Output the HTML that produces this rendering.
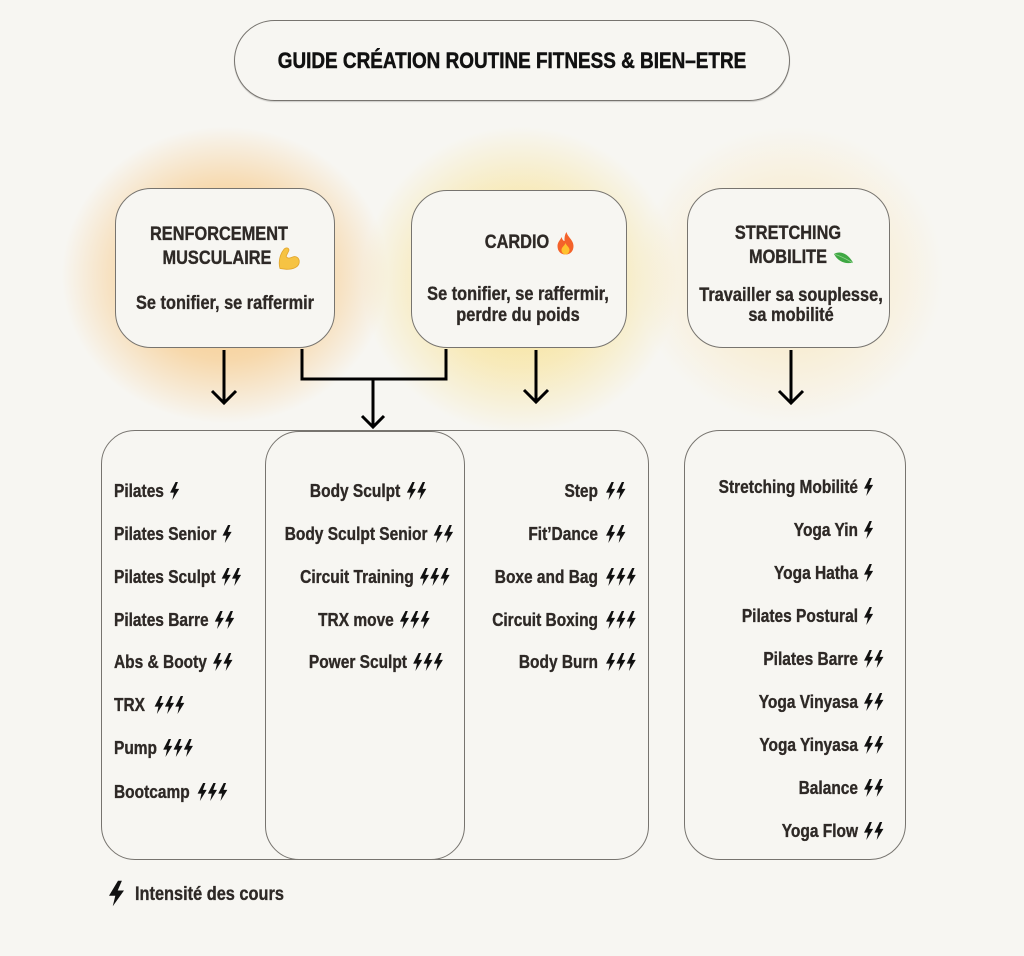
<!DOCTYPE html>
<html>
<head>
<meta charset="utf-8">
<style>
  html,body{margin:0;padding:0;}
  body{width:1024px;height:956px;background:#f7f6f2;position:relative;overflow:hidden;
       font-family:"Liberation Sans",Arial,sans-serif;}
  .box{position:absolute;box-sizing:border-box;border:1.5px solid #77746f;background:#f7f6f2;}
  .t{position:absolute;white-space:nowrap;font-weight:700;color:#2e2926;font-size:18px;line-height:20px;-webkit-text-stroke:0.35px #2e2926;}
  .h{font-size:19px;line-height:22px;}
  .c{text-align:center;width:400px;transform:scaleX(.86);transform-origin:center;}
  .l{transform:scaleX(.86);transform-origin:left;}
  .r{text-align:right;width:400px;transform:scaleX(.86);transform-origin:right;}
  svg.b{width:11px;height:18px;vertical-align:-3px;margin-left:1px;fill:#111;}
  .g{margin-left:6px;}
  .glow{position:absolute;border-radius:50%;}
</style>
</head>
<body>

<!-- glows -->
<div class="glow" style="left:60px;top:125px;width:330px;height:300px;background:radial-gradient(ellipse at 50% 50%, rgba(246,178,80,.75) 0%, rgba(247,186,100,.5) 40%, rgba(247,200,130,0) 70%);"></div>
<div class="glow" style="left:360px;top:125px;width:320px;height:310px;background:radial-gradient(ellipse at 50% 50%, rgba(247,214,95,.75) 0%, rgba(248,220,120,.45) 40%, rgba(248,225,150,0) 70%);"></div>
<div class="glow" style="left:635px;top:125px;width:310px;height:300px;background:radial-gradient(ellipse at 50% 50%, rgba(250,220,150,.6) 0%, rgba(250,226,170,.35) 40%, rgba(250,230,180,0) 70%);"></div>

<!-- title -->
<div class="box" style="left:234px;top:20px;width:556px;height:81px;border-radius:41px;box-shadow:0 1px 1px rgba(0,0,0,.18);"></div>
<div class="t c" style="left:212px;width:600px;top:48px;font-size:22px;line-height:26px;color:#111;-webkit-text-stroke:0.5px #111;">GUIDE CRÉATION ROUTINE FITNESS &amp; BIEN–ETRE</div>

<!-- top boxes -->
<div class="box" style="left:115px;top:188px;width:220px;height:160px;border-radius:36px;"></div>
<div class="box" style="left:411px;top:190px;width:216px;height:158px;border-radius:36px;"></div>
<div class="box" style="left:687px;top:188px;width:203px;height:160px;border-radius:36px;"></div>

<!-- Renforcement text -->
<div class="t h c" style="left:19px;top:224px;">RENFORCEMENT</div>
<div class="t h c" style="left:17px;top:248px;">MUSCULAIRE</div>
<svg style="position:absolute;left:276px;top:246px;" width="25" height="24" viewBox="0 0 24 24">
  <path d="M3.5 22.5 C1.5 16 3.5 8 7.5 3.2 C9.5 1 13 1.8 12.3 4.8 L9.6 10.2 C10.8 13 13.5 12.2 16.2 11 C20 9.4 23.4 12.5 22.6 17 C21.8 21.2 16.5 23.3 10 23.3 Z" fill="#f6c343" stroke="#e2a52c" stroke-width=".8"/>
</svg>
<div class="t h c" style="left:25px;top:293px;">Se tonifier, se raffermir</div>

<!-- Cardio text -->
<div class="t h c" style="left:317px;top:232px;">CARDIO</div>
<svg style="position:absolute;left:554px;top:231px;" width="23" height="24" viewBox="0 0 22 24">
  <path d="M12 1 C13 6 19 9 19 15 C19 20 16 23.5 11 23.5 C6 23.5 3 20 3 15 C3 11 6 9 7 6 C8 9 9 10 10 10 C10 7 10 4 12 1Z" fill="#f4622a"/>
  <path d="M11 12 C12 15 15 16 15 19 C15 21.5 13 23.5 11 23.5 C9 23.5 7 21.5 7 19 C7 16 10 15 11 12Z" fill="#ffc12e"/>
</svg>
<div class="t h c" style="left:318px;top:284px;">Se tonifier, se raffermir,</div>
<div class="t h c" style="left:318px;top:305px;">perdre du poids</div>

<!-- Stretching text -->
<div class="t h c" style="left:588px;top:223px;">STRETCHING</div>
<div class="t h c" style="left:588px;top:247px;">MOBILITE</div>
<svg style="position:absolute;left:833px;top:251px;" width="21" height="14" viewBox="0 0 21 14">
  <path d="M1 3 C6 0 14 1 20 11.5 C12 13.5 5 10.5 1 3Z" fill="#3fa843"/>
  <path d="M2 3.5 C8 5 13 8 19 11.3" stroke="#8fd18c" stroke-width=".8" fill="none"/>
</svg>
<div class="t h c" style="left:591px;top:285px;">Travailler sa souplesse,</div>
<div class="t h c" style="left:591px;top:305px;">sa mobilité</div>

<!-- lower boxes -->
<div class="box" style="left:101px;top:430px;width:300px;height:430px;border-radius:34px;"></div>
<div class="box" style="left:330px;top:430px;width:319px;height:430px;border-radius:34px;"></div>
<div class="box" style="left:265px;top:431px;width:200px;height:429px;border-radius:34px;"></div>
<div class="box" style="left:684px;top:430px;width:222px;height:430px;border-radius:36px;"></div>

<!-- connectors -->
<svg style="position:absolute;left:0;top:0;" width="1024" height="956">
  <g stroke="#000" stroke-width="3" fill="none" stroke-linecap="butt" stroke-linejoin="miter">
    <path d="M224 350 V402"/>
    <path d="M212 391 L224 403 L236 391"/>
    <path d="M302 349 V379 H446 V349"/>
    <path d="M373 379 V427"/>
    <path d="M362 416 L373 427 L384 416"/>
    <path d="M536 350 V401"/>
    <path d="M524 390 L536 402 L548 390"/>
    <path d="M791 350 V402"/>
    <path d="M779 391 L791 403 L803 391"/>
  </g>
</svg>

<!-- Left list -->
<div class="t l" style="left:114px;top:481px;">Pilates<span class="g"></span><svg class="b" viewBox="0 0 10 17"><path d="M6 0 L0 10 L4.2 10 L2.5 17 L10 6.5 L5.8 6.5 L8.6 0Z"/></svg></div>
<div class="t l" style="left:114px;top:524px;">Pilates Senior<span class="g"></span><svg class="b" viewBox="0 0 10 17"><path d="M6 0 L0 10 L4.2 10 L2.5 17 L10 6.5 L5.8 6.5 L8.6 0Z"/></svg></div>
<div class="t l" style="left:114px;top:567px;">Pilates Sculpt<span class="g"></span><svg class="b" viewBox="0 0 10 17"><path d="M6 0 L0 10 L4.2 10 L2.5 17 L10 6.5 L5.8 6.5 L8.6 0Z"/></svg><svg class="b" viewBox="0 0 10 17"><path d="M6 0 L0 10 L4.2 10 L2.5 17 L10 6.5 L5.8 6.5 L8.6 0Z"/></svg></div>
<div class="t l" style="left:114px;top:610px;">Pilates Barre<span class="g"></span><svg class="b" viewBox="0 0 10 17"><path d="M6 0 L0 10 L4.2 10 L2.5 17 L10 6.5 L5.8 6.5 L8.6 0Z"/></svg><svg class="b" viewBox="0 0 10 17"><path d="M6 0 L0 10 L4.2 10 L2.5 17 L10 6.5 L5.8 6.5 L8.6 0Z"/></svg></div>
<div class="t l" style="left:114px;top:652px;">Abs &amp; Booty<span class="g"></span><svg class="b" viewBox="0 0 10 17"><path d="M6 0 L0 10 L4.2 10 L2.5 17 L10 6.5 L5.8 6.5 L8.6 0Z"/></svg><svg class="b" viewBox="0 0 10 17"><path d="M6 0 L0 10 L4.2 10 L2.5 17 L10 6.5 L5.8 6.5 L8.6 0Z"/></svg></div>
<div class="t l" style="left:114px;top:695px;">TRX<span class="g" style="margin-left:10px"></span><svg class="b" viewBox="0 0 10 17"><path d="M6 0 L0 10 L4.2 10 L2.5 17 L10 6.5 L5.8 6.5 L8.6 0Z"/></svg><svg class="b" viewBox="0 0 10 17"><path d="M6 0 L0 10 L4.2 10 L2.5 17 L10 6.5 L5.8 6.5 L8.6 0Z"/></svg><svg class="b" viewBox="0 0 10 17"><path d="M6 0 L0 10 L4.2 10 L2.5 17 L10 6.5 L5.8 6.5 L8.6 0Z"/></svg></div>
<div class="t l" style="left:114px;top:738px;">Pump<span class="g"></span><svg class="b" viewBox="0 0 10 17"><path d="M6 0 L0 10 L4.2 10 L2.5 17 L10 6.5 L5.8 6.5 L8.6 0Z"/></svg><svg class="b" viewBox="0 0 10 17"><path d="M6 0 L0 10 L4.2 10 L2.5 17 L10 6.5 L5.8 6.5 L8.6 0Z"/></svg><svg class="b" viewBox="0 0 10 17"><path d="M6 0 L0 10 L4.2 10 L2.5 17 L10 6.5 L5.8 6.5 L8.6 0Z"/></svg></div>
<div class="t l" style="left:114px;top:782px;">Bootcamp<span class="g" style="margin-left:8px"></span><svg class="b" viewBox="0 0 10 17"><path d="M6 0 L0 10 L4.2 10 L2.5 17 L10 6.5 L5.8 6.5 L8.6 0Z"/></svg><svg class="b" viewBox="0 0 10 17"><path d="M6 0 L0 10 L4.2 10 L2.5 17 L10 6.5 L5.8 6.5 L8.6 0Z"/></svg><svg class="b" viewBox="0 0 10 17"><path d="M6 0 L0 10 L4.2 10 L2.5 17 L10 6.5 L5.8 6.5 L8.6 0Z"/></svg></div>

<!-- Middle list -->
<div class="t c" style="left:168px;top:481px;">Body Sculpt<span class="g"></span><svg class="b" viewBox="0 0 10 17"><path d="M6 0 L0 10 L4.2 10 L2.5 17 L10 6.5 L5.8 6.5 L8.6 0Z"/></svg><svg class="b" viewBox="0 0 10 17"><path d="M6 0 L0 10 L4.2 10 L2.5 17 L10 6.5 L5.8 6.5 L8.6 0Z"/></svg></div>
<div class="t c" style="left:169px;top:524px;">Body Sculpt Senior<span class="g"></span><svg class="b" viewBox="0 0 10 17"><path d="M6 0 L0 10 L4.2 10 L2.5 17 L10 6.5 L5.8 6.5 L8.6 0Z"/></svg><svg class="b" viewBox="0 0 10 17"><path d="M6 0 L0 10 L4.2 10 L2.5 17 L10 6.5 L5.8 6.5 L8.6 0Z"/></svg></div>
<div class="t c" style="left:175px;top:567px;">Circuit Training<span class="g"></span><svg class="b" viewBox="0 0 10 17"><path d="M6 0 L0 10 L4.2 10 L2.5 17 L10 6.5 L5.8 6.5 L8.6 0Z"/></svg><svg class="b" viewBox="0 0 10 17"><path d="M6 0 L0 10 L4.2 10 L2.5 17 L10 6.5 L5.8 6.5 L8.6 0Z"/></svg><svg class="b" viewBox="0 0 10 17"><path d="M6 0 L0 10 L4.2 10 L2.5 17 L10 6.5 L5.8 6.5 L8.6 0Z"/></svg></div>
<div class="t c" style="left:174px;top:610px;">TRX move<span class="g"></span><svg class="b" viewBox="0 0 10 17"><path d="M6 0 L0 10 L4.2 10 L2.5 17 L10 6.5 L5.8 6.5 L8.6 0Z"/></svg><svg class="b" viewBox="0 0 10 17"><path d="M6 0 L0 10 L4.2 10 L2.5 17 L10 6.5 L5.8 6.5 L8.6 0Z"/></svg><svg class="b" viewBox="0 0 10 17"><path d="M6 0 L0 10 L4.2 10 L2.5 17 L10 6.5 L5.8 6.5 L8.6 0Z"/></svg></div>
<div class="t c" style="left:176px;top:652px;">Power Sculpt<span class="g"></span><svg class="b" viewBox="0 0 10 17"><path d="M6 0 L0 10 L4.2 10 L2.5 17 L10 6.5 L5.8 6.5 L8.6 0Z"/></svg><svg class="b" viewBox="0 0 10 17"><path d="M6 0 L0 10 L4.2 10 L2.5 17 L10 6.5 L5.8 6.5 L8.6 0Z"/></svg><svg class="b" viewBox="0 0 10 17"><path d="M6 0 L0 10 L4.2 10 L2.5 17 L10 6.5 L5.8 6.5 L8.6 0Z"/></svg></div>

<!-- Cardio list -->
<div class="t r" style="left:198px;top:481px;">Step</div>
<div class="t r" style="left:198px;top:524px;">Fit’Dance</div>
<div class="t r" style="left:198px;top:567px;">Boxe and Bag</div>
<div class="t r" style="left:198px;top:610px;">Circuit Boxing</div>
<div class="t r" style="left:198px;top:652px;">Body Burn</div>
<div class="t l" style="left:605px;top:481px;"><svg class="b" viewBox="0 0 10 17"><path d="M6 0 L0 10 L4.2 10 L2.5 17 L10 6.5 L5.8 6.5 L8.6 0Z"/></svg><svg class="b" viewBox="0 0 10 17"><path d="M6 0 L0 10 L4.2 10 L2.5 17 L10 6.5 L5.8 6.5 L8.6 0Z"/></svg></div>
<div class="t l" style="left:605px;top:524px;"><svg class="b" viewBox="0 0 10 17"><path d="M6 0 L0 10 L4.2 10 L2.5 17 L10 6.5 L5.8 6.5 L8.6 0Z"/></svg><svg class="b" viewBox="0 0 10 17"><path d="M6 0 L0 10 L4.2 10 L2.5 17 L10 6.5 L5.8 6.5 L8.6 0Z"/></svg></div>
<div class="t l" style="left:605px;top:567px;"><svg class="b" viewBox="0 0 10 17"><path d="M6 0 L0 10 L4.2 10 L2.5 17 L10 6.5 L5.8 6.5 L8.6 0Z"/></svg><svg class="b" viewBox="0 0 10 17"><path d="M6 0 L0 10 L4.2 10 L2.5 17 L10 6.5 L5.8 6.5 L8.6 0Z"/></svg><svg class="b" viewBox="0 0 10 17"><path d="M6 0 L0 10 L4.2 10 L2.5 17 L10 6.5 L5.8 6.5 L8.6 0Z"/></svg></div>
<div class="t l" style="left:605px;top:610px;"><svg class="b" viewBox="0 0 10 17"><path d="M6 0 L0 10 L4.2 10 L2.5 17 L10 6.5 L5.8 6.5 L8.6 0Z"/></svg><svg class="b" viewBox="0 0 10 17"><path d="M6 0 L0 10 L4.2 10 L2.5 17 L10 6.5 L5.8 6.5 L8.6 0Z"/></svg><svg class="b" viewBox="0 0 10 17"><path d="M6 0 L0 10 L4.2 10 L2.5 17 L10 6.5 L5.8 6.5 L8.6 0Z"/></svg></div>
<div class="t l" style="left:605px;top:652px;"><svg class="b" viewBox="0 0 10 17"><path d="M6 0 L0 10 L4.2 10 L2.5 17 L10 6.5 L5.8 6.5 L8.6 0Z"/></svg><svg class="b" viewBox="0 0 10 17"><path d="M6 0 L0 10 L4.2 10 L2.5 17 L10 6.5 L5.8 6.5 L8.6 0Z"/></svg><svg class="b" viewBox="0 0 10 17"><path d="M6 0 L0 10 L4.2 10 L2.5 17 L10 6.5 L5.8 6.5 L8.6 0Z"/></svg></div>

<!-- Stretching list -->
<div class="t r" style="left:458px;top:477px;">Stretching Mobilité</div>
<div class="t r" style="left:458px;top:520px;">Yoga Yin</div>
<div class="t r" style="left:458px;top:563px;">Yoga Hatha</div>
<div class="t r" style="left:458px;top:606px;">Pilates Postural</div>
<div class="t r" style="left:458px;top:649px;">Pilates Barre</div>
<div class="t r" style="left:458px;top:692px;">Yoga Vinyasa</div>
<div class="t r" style="left:458px;top:735px;">Yoga Yinyasa</div>
<div class="t r" style="left:458px;top:778px;">Balance</div>
<div class="t r" style="left:458px;top:821px;">Yoga Flow</div>
<div class="t l" style="left:863px;top:477px;"><svg class="b" viewBox="0 0 10 17"><path d="M6 0 L0 10 L4.2 10 L2.5 17 L10 6.5 L5.8 6.5 L8.6 0Z"/></svg></div>
<div class="t l" style="left:863px;top:520px;"><svg class="b" viewBox="0 0 10 17"><path d="M6 0 L0 10 L4.2 10 L2.5 17 L10 6.5 L5.8 6.5 L8.6 0Z"/></svg></div>
<div class="t l" style="left:863px;top:563px;"><svg class="b" viewBox="0 0 10 17"><path d="M6 0 L0 10 L4.2 10 L2.5 17 L10 6.5 L5.8 6.5 L8.6 0Z"/></svg></div>
<div class="t l" style="left:863px;top:606px;"><svg class="b" viewBox="0 0 10 17"><path d="M6 0 L0 10 L4.2 10 L2.5 17 L10 6.5 L5.8 6.5 L8.6 0Z"/></svg></div>
<div class="t l" style="left:863px;top:649px;"><svg class="b" viewBox="0 0 10 17"><path d="M6 0 L0 10 L4.2 10 L2.5 17 L10 6.5 L5.8 6.5 L8.6 0Z"/></svg><svg class="b" viewBox="0 0 10 17"><path d="M6 0 L0 10 L4.2 10 L2.5 17 L10 6.5 L5.8 6.5 L8.6 0Z"/></svg></div>
<div class="t l" style="left:863px;top:692px;"><svg class="b" viewBox="0 0 10 17"><path d="M6 0 L0 10 L4.2 10 L2.5 17 L10 6.5 L5.8 6.5 L8.6 0Z"/></svg><svg class="b" viewBox="0 0 10 17"><path d="M6 0 L0 10 L4.2 10 L2.5 17 L10 6.5 L5.8 6.5 L8.6 0Z"/></svg></div>
<div class="t l" style="left:863px;top:735px;"><svg class="b" viewBox="0 0 10 17"><path d="M6 0 L0 10 L4.2 10 L2.5 17 L10 6.5 L5.8 6.5 L8.6 0Z"/></svg><svg class="b" viewBox="0 0 10 17"><path d="M6 0 L0 10 L4.2 10 L2.5 17 L10 6.5 L5.8 6.5 L8.6 0Z"/></svg></div>
<div class="t l" style="left:863px;top:778px;"><svg class="b" viewBox="0 0 10 17"><path d="M6 0 L0 10 L4.2 10 L2.5 17 L10 6.5 L5.8 6.5 L8.6 0Z"/></svg><svg class="b" viewBox="0 0 10 17"><path d="M6 0 L0 10 L4.2 10 L2.5 17 L10 6.5 L5.8 6.5 L8.6 0Z"/></svg></div>
<div class="t l" style="left:863px;top:821px;"><svg class="b" viewBox="0 0 10 17"><path d="M6 0 L0 10 L4.2 10 L2.5 17 L10 6.5 L5.8 6.5 L8.6 0Z"/></svg><svg class="b" viewBox="0 0 10 17"><path d="M6 0 L0 10 L4.2 10 L2.5 17 L10 6.5 L5.8 6.5 L8.6 0Z"/></svg></div>

<!-- legend -->
<svg style="position:absolute;left:109px;top:880px;" width="15" height="27" viewBox="0 0 10 17"><path d="M6 0 L0 10 L4.2 10 L2.5 17 L10 6.5 L5.8 6.5 L8.6 0Z" fill="#111"/></svg>
<div class="t h l" style="left:135px;top:884px;">Intensité des cours</div>

</body>
</html>
